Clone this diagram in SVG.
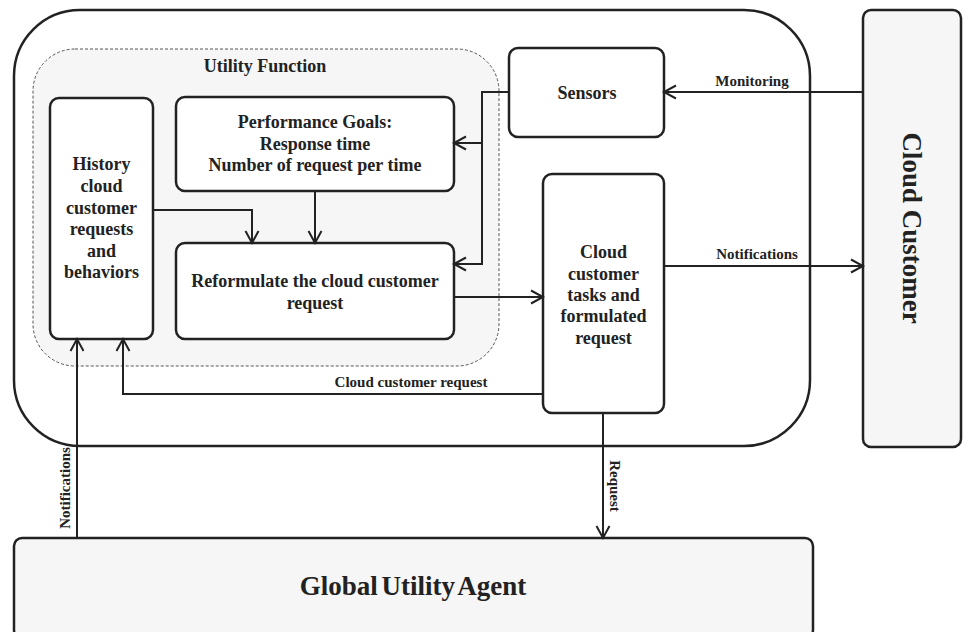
<svg xmlns="http://www.w3.org/2000/svg" width="963" height="632" viewBox="0 0 963 632">
<style>
  .t{font-family:"Liberation Serif","Times New Roman",serif;font-weight:bold;fill:#222;text-anchor:middle}
  .n{font-size:18px}
  .l{font-size:15px}
  .box{fill:#fff;stroke:#222;stroke-width:2.5}
  .grey{fill:#f6f6f6;stroke:#222;stroke-width:2.5}
  .c{fill:none;stroke:#222;stroke-width:2}
</style>
<defs>
  <marker id="ah" markerUnits="userSpaceOnUse" markerWidth="16" markerHeight="16" refX="13" refY="8" orient="auto" viewBox="0 0 16 16">
    <path d="M1,1.5 L13,8 L1,14.5" fill="none" stroke="#222" stroke-width="2"/>
  </marker>
</defs>
<rect width="963" height="632" fill="#fff"/>
<g id="container">
  <rect x="14" y="10" width="796" height="436" rx="66" ry="66" fill="#fff" stroke="#222" stroke-width="2.5"/>
</g>
<g id="utility-function">
  <rect x="33" y="49" width="466" height="317" rx="42" ry="42" fill="#f6f6f6" stroke="#555" stroke-width="1" stroke-dasharray="3,2"/>
  <text class="t" x="265" y="72" style="font-size:18px">Utility Function</text>
</g>
<g id="history">
  <rect class="box" x="50" y="98" width="103" height="241" rx="9"/>
  <text class="t n" x="101.5" y="170">History</text>
  <text class="t n" x="101.5" y="192">cloud</text>
  <text class="t n" x="101.5" y="214">customer</text>
  <text class="t n" x="101.5" y="235">requests</text>
  <text class="t n" x="101.5" y="257">and</text>
  <text class="t n" x="101.5" y="278">behaviors</text>
</g>
<g id="performance-goals">
  <rect class="box" x="176" y="97" width="278" height="94" rx="9"/>
  <text class="t n" x="315" y="128">Performance Goals:</text>
  <text class="t n" x="315" y="150">Response time</text>
  <text class="t n" x="315" y="171">Number of request per time</text>
</g>
<g id="reformulate">
  <rect class="box" x="176" y="243" width="278" height="96" rx="9"/>
  <text class="t n" x="315" y="287">Reformulate the cloud customer</text>
  <text class="t n" x="315" y="309">request</text>
</g>
<g id="sensors">
  <rect class="box" x="509" y="48" width="155" height="89" rx="9"/>
  <text class="t n" x="587" y="99">Sensors</text>
</g>
<g id="tasks">
  <rect class="box" x="543" y="174" width="121" height="239" rx="9"/>
  <text class="t n" x="603.5" y="258">Cloud</text>
  <text class="t n" x="603.5" y="280">customer</text>
  <text class="t n" x="603.5" y="301">tasks and</text>
  <text class="t n" x="603.5" y="322">formulated</text>
  <text class="t n" x="603.5" y="344">request</text>
</g>
<g id="cloud-customer">
  <rect class="grey" x="863" y="10" width="98" height="437" rx="8"/>
  <text class="t" x="0" y="0" style="font-size:27px" transform="translate(903,228) rotate(90)">Cloud Customer</text>
</g>
<g id="global-utility-agent">
  <rect class="grey" x="14" y="538" width="799" height="100" rx="8"/>
  <text class="t" x="413" y="595" style="font-size:27px;word-spacing:-3px">Global Utility Agent</text>
</g>
<g id="connectors">
  <path class="c" d="M863,92 L664,92" marker-end="url(#ah)"/>
  <path class="c" d="M509,92 L482,92 L482,264 L454,264" marker-end="url(#ah)"/>
  <path class="c" d="M482,143 L454,143" marker-end="url(#ah)"/>
  <path class="c" d="M153,210 L252,210 L252,243" marker-end="url(#ah)"/>
  <path class="c" d="M315,191 L315,243" marker-end="url(#ah)"/>
  <path class="c" d="M454,297 L543,297" marker-end="url(#ah)"/>
  <path class="c" d="M664,266 L863,266" marker-end="url(#ah)"/>
  <path class="c" d="M543,394 L123,394 L123,339" marker-end="url(#ah)"/>
  <path class="c" d="M77,538 L77,339" marker-end="url(#ah)"/>
  <path class="c" d="M603,413 L603,538" marker-end="url(#ah)"/>
  <text class="t l" x="752" y="86">Monitoring</text>
  <text class="t l" x="757" y="259">Notifications</text>
  <text class="t l" x="411" y="387">Cloud customer request</text>
  <text class="t l" x="0" y="0" transform="translate(70,488) rotate(-90)">Notifications</text>
  <text class="t l" x="0" y="0" transform="translate(610,486) rotate(90)">Request</text>
</g>
</svg>
